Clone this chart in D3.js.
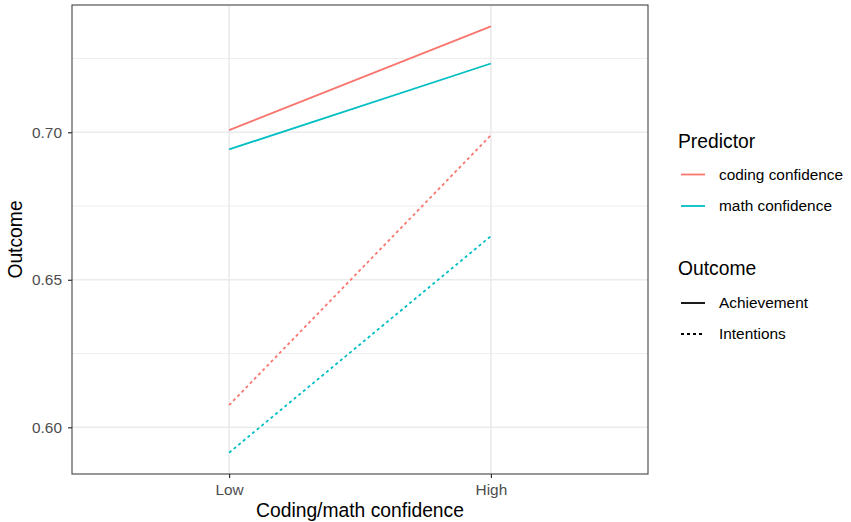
<!DOCTYPE html>
<html>
<head>
<meta charset="utf-8">
<script src="https://cdn.jsdelivr.net/npm/d3@7"></script>
<style>
  body { margin: 0; background: #fff; }
  text { font-family: "Liberation Sans", Arial, sans-serif; }
</style>
</head>
<body>
<svg id="chart" width="851" height="522"></svg>
<script>
// values
const levels = ["Low", "High"];
const predictors = ["coding confidence", "math confidence"];
const outcomes = ["Achievement", "Intentions"];
const codingAchievement = [0.7007, 0.7359];
const mathAchievement = [0.6942, 0.7233];
const codingIntentions = [0.6075, 0.6990];
const mathIntentions = [0.5914, 0.6648];
const yTicks = [0.60, 0.65, 0.70];
const yMinor = [0.625, 0.675, 0.725];

const colours = { "coding confidence": "#F8766D", "math confidence": "#00BFC4" };
const dashes = { Achievement: null, Intentions: "3,3" };

const series = [
  { predictor: "coding confidence", outcome: "Achievement", values: codingAchievement },
  { predictor: "math confidence", outcome: "Achievement", values: mathAchievement },
  { predictor: "coding confidence", outcome: "Intentions", values: codingIntentions },
  { predictor: "math confidence", outcome: "Intentions", values: mathIntentions }
];

const margin = { top: 5, left: 72, right: 203, bottom: 48 };
const svg = d3.select("#chart");
const width = 851 - margin.left - margin.right;
const height = 522 - margin.top - margin.bottom;

// ggplot-style expansion: discrete 0.6 units, continuous 5%
const x = d3.scaleLinear().domain([0.4, levels.length + 0.6]).range([0, width]);
const all = series.flatMap(s => s.values);
const lo = d3.min(all), hi = d3.max(all), pad = (hi - lo) * 0.05;
const y = d3.scaleLinear().domain([lo - pad, hi + pad]).range([height, 0]);

const g = svg.append("g").attr("transform", `translate(${margin.left},${margin.top})`);

// grid
g.selectAll(".minor").data(yMinor).join("line")
  .attr("x1", 0).attr("x2", width)
  .attr("y1", d => y(d)).attr("y2", d => y(d))
  .attr("stroke", "#ebebeb").attr("stroke-width", 0.8);
g.selectAll(".major").data(yTicks).join("line")
  .attr("x1", 0).attr("x2", width)
  .attr("y1", d => y(d)).attr("y2", d => y(d))
  .attr("stroke", "#ebebeb").attr("stroke-width", 1.6);
g.selectAll(".vmajor").data(levels).join("line")
  .attr("x1", (d, i) => x(i + 1)).attr("x2", (d, i) => x(i + 1))
  .attr("y1", 0).attr("y2", height)
  .attr("stroke", "#ebebeb").attr("stroke-width", 1.6);

// lines
const line = d3.line().x((d, i) => x(i + 1)).y(d => y(d));
g.selectAll(".series").data(series).join("path")
  .attr("d", d => line(d.values))
  .attr("fill", "none")
  .attr("stroke", d => colours[d.predictor])
  .attr("stroke-width", 1.8)
  .attr("stroke-dasharray", d => dashes[d.outcome]);

// border
g.append("rect").attr("width", width).attr("height", height)
  .attr("fill", "none").attr("stroke", "#444").attr("stroke-width", 1.1);

// axes
const yAxis = g.append("g")
  .call(d3.axisLeft(y).tickValues(yTicks).tickFormat(d3.format(".2f")).tickSize(4).tickPadding(6));
const xAxis = g.append("g").attr("transform", `translate(0,${height})`)
  .call(d3.axisBottom(x).tickValues([1, 2]).tickFormat((d, i) => levels[i]).tickSize(4).tickPadding(6));
[xAxis, yAxis].forEach(a => {
  a.select(".domain").remove();
  a.selectAll(".tick line").attr("stroke", "#333").attr("stroke-width", 1.2);
  a.selectAll(".tick text").attr("fill", "#4d4d4d").style("font-size", "15.4px");
});

svg.append("text").attr("x", margin.left + width / 2).attr("y", 517)
  .attr("text-anchor", "middle").style("font-size", "19.3px").attr("fill", "#000")
  .text("Coding/math confidence");
svg.append("text").attr("transform", `translate(22,${margin.top + height / 2}) rotate(-90)`)
  .attr("text-anchor", "middle").style("font-size", "19.3px").attr("fill", "#000")
  .text("Outcome");

// legends
const leg = svg.append("g").attr("transform", "translate(678,0)");
leg.append("text").attr("x", 0).attr("y", 148).style("font-size", "19.3px").text("Predictor");
predictors.forEach((p, i) => {
  const cy = 174.5 + i * 31.5;
  leg.append("line").attr("x1", 3).attr("x2", 27).attr("y1", cy).attr("y2", cy)
    .attr("stroke", colours[p]).attr("stroke-width", 1.8);
  leg.append("text").attr("x", 41).attr("y", cy).attr("dy", "0.35em")
    .style("font-size", "15.4px").text(p);
});
leg.append("text").attr("x", 0).attr("y", 275).style("font-size", "19.3px").text("Outcome");
outcomes.forEach((o, i) => {
  const cy = 303 + i * 31;
  leg.append("line").attr("x1", 3).attr("x2", 27).attr("y1", cy).attr("y2", cy)
    .attr("stroke", "#000").attr("stroke-width", 1.8)
    .attr("stroke-dasharray", dashes[o]);
  leg.append("text").attr("x", 41).attr("y", cy).attr("dy", "0.35em")
    .style("font-size", "15.4px").text(o);
});
</script>
</body>
</html>
